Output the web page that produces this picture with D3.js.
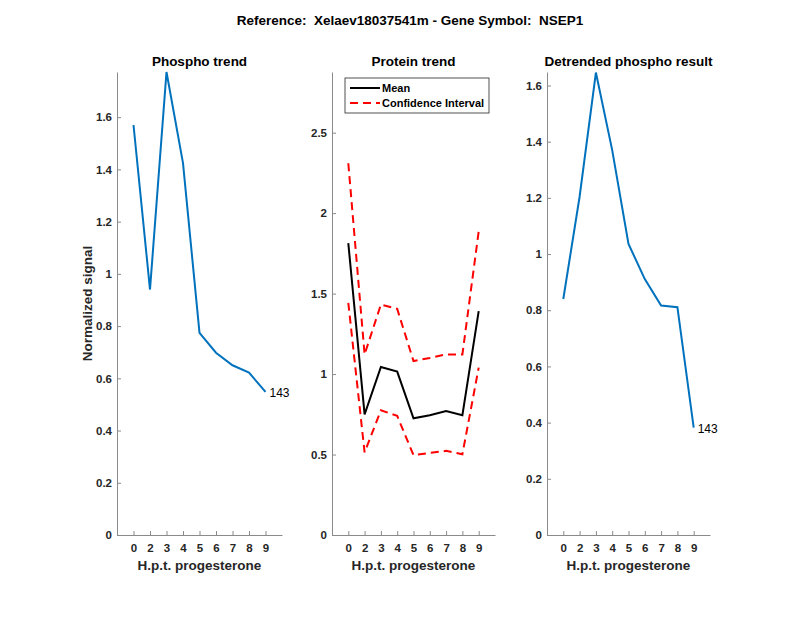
<!DOCTYPE html>
<html>
<head>
<meta charset="utf-8">
<script src="https://cdn.jsdelivr.net/npm/d3@7"></script>
<style>
  body { margin: 0; background: #fff; }
  text { font-family: "Liberation Sans", Arial, sans-serif; fill: #262626; white-space: pre; }
</style>
</head>
<body>
<div id="chart"></div>
<script>
// data
var hours = ["0", "2", "3", "4", "5", "6", "7", "8", "9"];
var phospho = [1.570, 0.940, 1.773, 1.424, 0.774, 0.698, 0.650, 0.622, 0.548];
var proteinMean = [1.814, 0.750, 1.044, 1.015, 0.725, 0.744, 0.771, 0.744, 1.391];
var ciUpper = [2.310, 1.122, 1.432, 1.405, 1.081, 1.100, 1.122, 1.122, 1.887];
var ciLower = [1.443, 0.513, 0.775, 0.740, 0.496, 0.510, 0.523, 0.502, 1.040];
var detrended = [0.840, 1.204, 1.646, 1.370, 1.036, 0.911, 0.817, 0.811, 0.382];

var phosphoTicks = [0, 0.2, 0.4, 0.6, 0.8, 1, 1.2, 1.4, 1.6];
var proteinTicks = [0, 0.5, 1, 1.5, 2, 2.5];
var detrendTicks = [0, 0.2, 0.4, 0.6, 0.8, 1, 1.2, 1.4, 1.6];
var pointLabel = "143";

var svgWidth = 800;
var svgHeight = 618;
var plotTop = 72, plotBottom = 535;

var svg = d3.select("#chart")
    .append("svg")
    .attr("width", svgWidth)
    .attr("height", svgHeight);

svg.append("text")
    .attr("x", 410)
    .attr("y", 25)
    .attr("text-anchor", "middle")
    .style("font-size", "13.5px")
    .style("font-weight", "bold")
    .style("fill", "#000")
    .text("Reference:  Xelaev18037541m - Gene Symbol:  NSEP1");

function makePanel(left, right, yMax, ticks, title) {
    var g = svg.append("g");
    var x = d3.scaleLinear().domain([0, 10]).range([left, right]);
    var y = d3.scaleLinear().domain([0, yMax]).range([plotBottom, plotTop]);

    // x axis, ticks pointing inward
    var xAxis = d3.axisBottom(x)
        .tickValues(d3.range(1, hours.length + 1))
        .tickFormat(function(d) { return hours[d - 1]; })
        .tickSizeInner(-4)
        .tickSizeOuter(0)
        .tickPadding(9);
    var gx = g.append("g")
        .attr("transform", "translate(0," + plotBottom + ")")
        .call(xAxis);

    var yAxis = d3.axisLeft(y)
        .tickValues(ticks)
        .tickFormat(function(d) { return String(+d.toFixed(1)); })
        .tickSizeInner(-4)
        .tickSizeOuter(0)
        .tickPadding(5);
    var gy = g.append("g")
        .attr("transform", "translate(" + left + ",0)")
        .call(yAxis);

    [gx, gy].forEach(function(a) {
        a.select(".domain").attr("stroke", "#8a8a8a");
        a.selectAll(".tick line").attr("stroke", "#8a8a8a");
        a.selectAll(".tick text")
            .style("font-size", "11.5px")
            .style("font-weight", "bold")
            .style("font-family", "Liberation Sans, Arial, sans-serif")
            .attr("fill", "#262626");
    });

    g.append("text")
        .attr("x", (left + right) / 2)
        .attr("y", 66)
        .attr("text-anchor", "middle")
        .style("font-size", "13.5px")
        .style("font-weight", "bold")
        .style("fill", "#000")
        .text(title);

    g.append("text")
        .attr("x", (left + right) / 2)
        .attr("y", 570)
        .attr("text-anchor", "middle")
        .style("font-size", "13.5px")
        .style("font-weight", "bold")
        .text("H.p.t. progesterone");

    return { g: g, x: x, y: y };
}

function drawLine(p, values, color, dash) {
    var line = d3.line()
        .x(function(d, i) { return p.x(i + 1); })
        .y(function(d) { return p.y(d); });
    p.g.append("path")
        .datum(values)
        .attr("fill", "none")
        .attr("stroke", color)
        .attr("stroke-width", 2)
        .attr("stroke-dasharray", dash || null)
        .attr("d", line);
}

function endLabel(p, values) {
    var n = values.length;
    p.g.append("text")
        .attr("x", p.x(n) + 4)
        .attr("y", p.y(values[n - 1]) + 5)
        .style("font-size", "12px")
        .style("fill", "#000")
        .text(pointLabel);
}

// Panel 1
var p1 = makePanel(117, 282, 1.773, phosphoTicks, "Phospho trend");
drawLine(p1, phospho, "#0072BD");
endLabel(p1, phospho);
p1.g.append("text")
    .attr("transform", "translate(92," + (plotTop + plotBottom) / 2 + ") rotate(-90)")
    .attr("text-anchor", "middle")
    .style("font-size", "13.5px")
    .style("font-weight", "bold")
    .text("Normalized signal");

// Panel 2
var p2 = makePanel(332, 495, 2.877, proteinTicks, "Protein trend");
drawLine(p2, proteinMean, "#000");
drawLine(p2, ciUpper, "#ff0000", "8,5");
drawLine(p2, ciLower, "#ff0000", "8,5");

// legend
var lg = p2.g.append("g").attr("transform", "translate(345,78)");
lg.append("rect")
    .attr("width", 144)
    .attr("height", 35)
    .attr("fill", "#fff")
    .attr("stroke", "#262626")
    .attr("stroke-width", 0.8);
lg.append("line")
    .attr("x1", 5).attr("x2", 35).attr("y1", 10).attr("y2", 10)
    .attr("stroke", "#000").attr("stroke-width", 2);
lg.append("line")
    .attr("x1", 5).attr("x2", 35).attr("y1", 25).attr("y2", 25)
    .attr("stroke", "#ff0000").attr("stroke-width", 2)
    .attr("stroke-dasharray", "8,5");
lg.append("text").attr("x", 37).attr("y", 14)
    .style("font-size", "11px").style("font-weight", "bold").style("fill", "#000")
    .text("Mean");
lg.append("text").attr("x", 37).attr("y", 29)
    .style("font-size", "11px").style("font-weight", "bold").style("fill", "#000")
    .text("Confidence Interval");

// Panel 3
var p3 = makePanel(547, 710, 1.648, detrendTicks, "Detrended phospho result");
drawLine(p3, detrended, "#0072BD");
endLabel(p3, detrended);
</script>
</body>
</html>
